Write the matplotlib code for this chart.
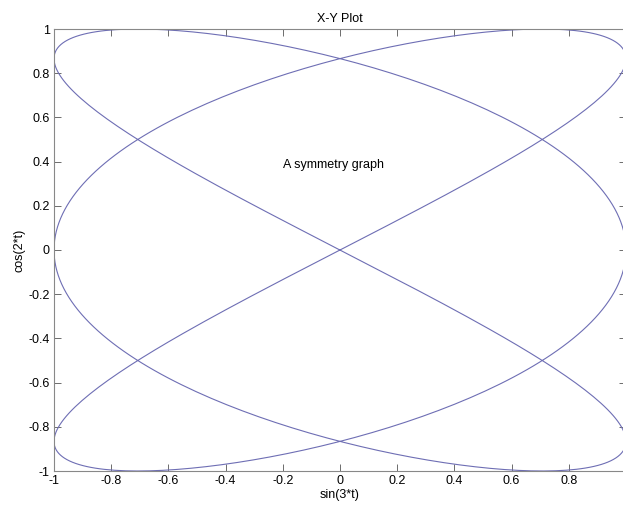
import matplotlib.pyplot as plt
import numpy as np

# parametric curve from the axis labels: x = sin(3*t + phase), y = cos(2*t)
# the phase: the curve touches y=1 at x = +-0.707
t = np.arange(0, 2 * np.pi + 0.01, 0.01)
x_freq = 3
y_freq = 2
x_phase = np.pi / 4
x_vals = np.sin(x_freq * t + x_phase)
y_vals = np.cos(y_freq * t)

x_ticks = [-1, -0.8, -0.6, -0.4, -0.2, 0, 0.2, 0.4, 0.6, 0.8]
y_ticks = [-1, -0.8, -0.6, -0.4, -0.2, 0, 0.2, 0.4, 0.6, 0.8, 1]
x_ticklabels = ['-1', '-0.8', '-0.6', '-0.4', '-0.2', '0', '0.2', '0.4', '0.6', '0.8']
y_ticklabels = ['-1', '-0.8', '-0.6', '-0.4', '-0.2', '0', '0.2', '0.4', '0.6', '0.8', '1']

plt.rcParams['font.family'] = ['Liberation Sans', 'DejaVu Sans']
plt.rcParams['font.size'] = 9

fig = plt.figure(figsize=(6.23, 5.18), dpi=100)
# axes runs slightly past the right edge of the picture, as in the screenshot
axes = fig.add_axes([54 / 623, 47 / 518, 572 / 623, 442 / 518])
axes.plot(x_vals, y_vals, color='#6e6eb4', lw=0.8)
axes.set_xlim(-1, 1)
axes.set_ylim(-1, 1)
axes.set_xticks(x_ticks)
axes.set_xticklabels(x_ticklabels)
axes.set_yticks(y_ticks)
axes.set_yticklabels(y_ticklabels)
axes.tick_params(direction='in', top=True, right=True, length=5, width=0.6,
                 color='#555555', labelsize=9, pad=3)
for s in axes.spines.values():
    s.set_color('#888888')
    s.set_linewidth(0.8)
axes.set_title('X-Y Plot', fontsize=9, pad=5)
axes.set_xlabel('sin(3*t)', fontsize=9, labelpad=1)
axes.set_ylabel('cos(2*t)', fontsize=9, labelpad=2)
axes.text(-0.2, 0.385, 'A symmetry graph', fontsize=9, va='center', ha='left')

fig.savefig('out.png', dpi=100)
